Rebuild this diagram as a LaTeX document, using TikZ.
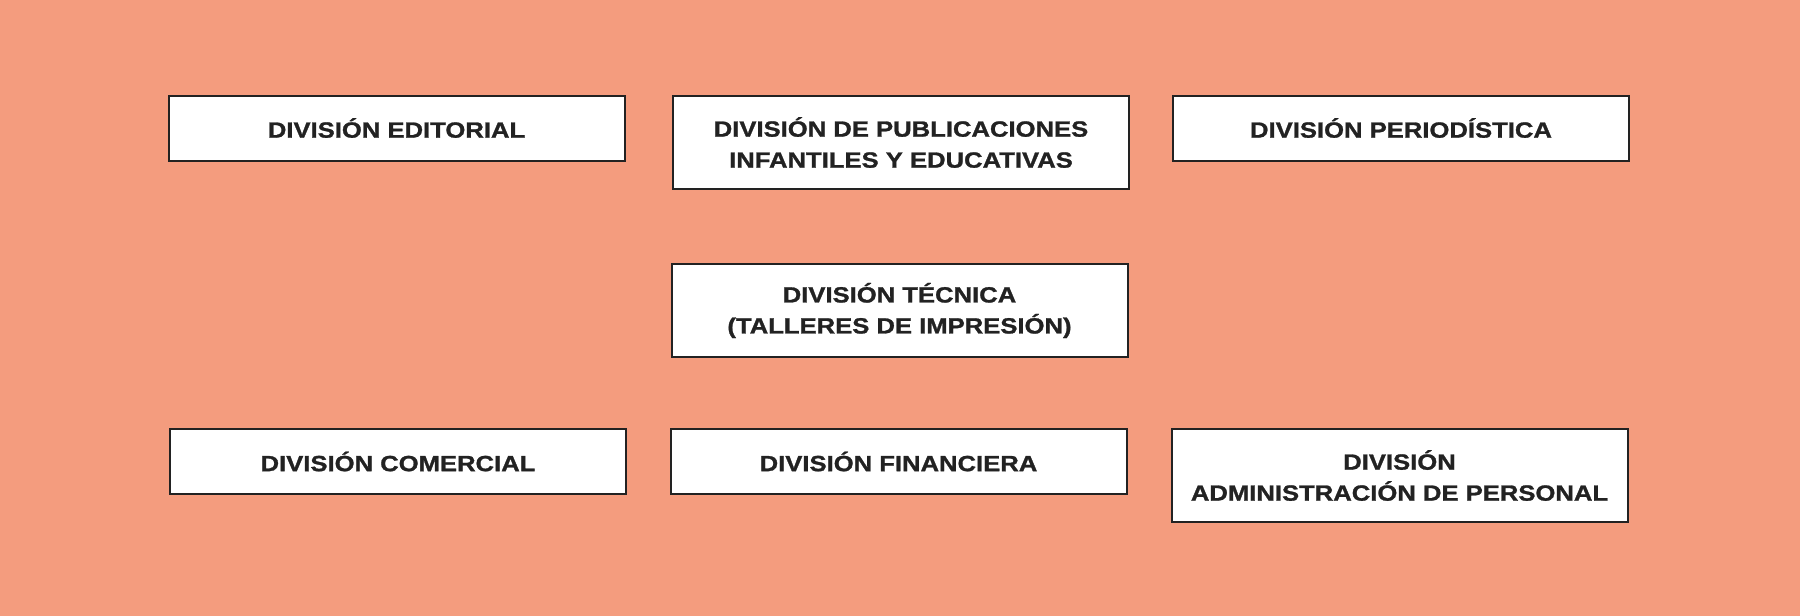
\documentclass[tikz,border=0pt]{standalone}
\usepackage{fontspec}
\setmainfont{Liberation Sans}[FakeStretch=1.165,BoldFeatures={FakeBold=1.2}]
\definecolor{fondo}{RGB}{244,156,126}
\definecolor{tinta}{RGB}{34,34,34}
\begin{document}
\begin{tikzpicture}[x=0.5pt,y=-0.5pt,
    division/.style={shape=rectangle,draw=tinta,line width=1pt,fill=white,
      text=tinta,align=center,inner sep=0pt,minimum width=228pt,
      font=\bfseries\fontsize{11}{15.5}\selectfont},
    uno/.style={division,minimum height=32.5pt},
    dos/.style={division,minimum height=46.5pt}]
            \fill[fondo] (0,0) rectangle (1800,616);

            \node[uno] (edit) at (396.5,128) {DIVISIÓN EDITORIAL};
            \node[dos] (publ) at (901,142.5) {DIVISIÓN DE PUBLICACIONES\\INFANTILES Y EDUCATIVAS};
            \node[uno] (peri) at (1401,128) {DIVISIÓN PERIODÍSTICA};

            \node[dos] (tecn) at (899.5,310.5) {DIVISIÓN TÉCNICA\\(TALLERES DE IMPRESIÓN)};

            \node[uno] (come) at (398,461.5) {DIVISIÓN COMERCIAL};
            \node[uno] (fina) at (898.5,461.5) {DIVISIÓN FINANCIERA};
            \node[dos] (admi) at (1399.5,475.5) {DIVISIÓN\\ADMINISTRACIÓN DE PERSONAL};
        \end{tikzpicture}
\end{document}
